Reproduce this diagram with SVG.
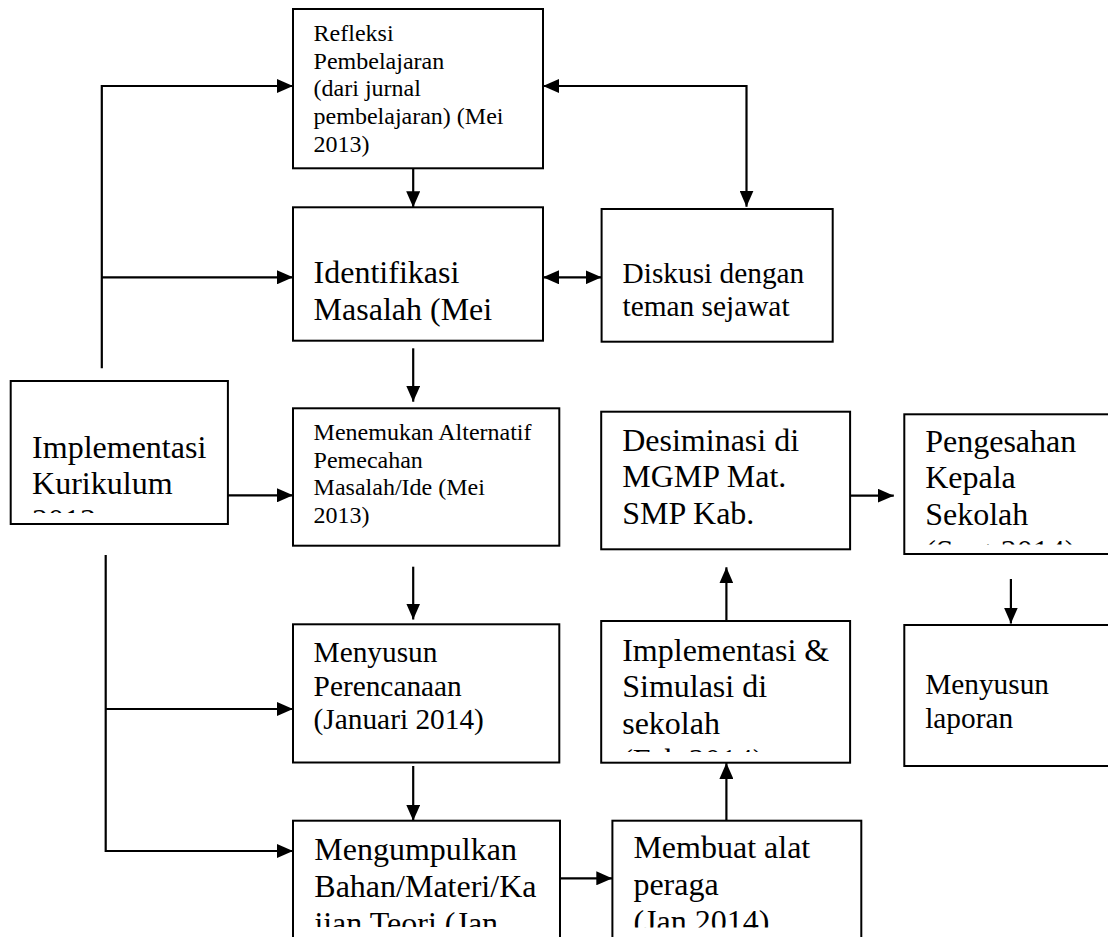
<svg xmlns="http://www.w3.org/2000/svg" width="1108" height="937" viewBox="0 0 1108 937">
<style>
.box{fill:#fff;stroke:#000;stroke-width:2}
.t{font-family:"Liberation Serif","Times New Roman",serif;fill:#000}
.s{font-size:24px}
.m{font-size:29.33px}
.l{font-size:32px}
.c{fill:none;stroke:#000;stroke-width:2.2}
</style>
<defs>
<marker id="ah" markerUnits="userSpaceOnUse" markerWidth="16" markerHeight="14" refX="16" refY="7" orient="auto-start-reverse" viewBox="0 0 16 14">
<path d="M0,0 L16,7 L0,14 z" fill="#000"/>
</marker>
<clipPath id="cpImpl"><rect x="11" y="381" width="217" height="132"/></clipPath>
<clipPath id="cpSim"><rect x="601" y="621" width="249" height="131"/></clipPath>
<clipPath id="cpPeng"><rect x="904" y="414" width="204" height="130.5"/></clipPath>
<clipPath id="cpKum"><rect x="293" y="821" width="267" height="106"/></clipPath>
<clipPath id="cpAlat"><rect x="612" y="821" width="249" height="106.5"/></clipPath>
</defs>
<rect width="1108" height="937" fill="#fff"/>

<g id="connectors">
<path class="c" d="M101.8,368.3 V86 H293" marker-end="url(#ah)"/>
<path class="c" d="M101.8,277.3 H293" marker-end="url(#ah)"/>
<path class="c" d="M105.7,555 V851 H293" marker-end="url(#ah)"/>
<path class="c" d="M105.7,709 H293" marker-end="url(#ah)"/>
<path class="c" d="M228,495.3 H293" marker-end="url(#ah)"/>
<path class="c" d="M413.2,168.3 V207.3" marker-end="url(#ah)"/>
<path class="c" d="M413.2,348.3 V401.7" marker-end="url(#ah)"/>
<path class="c" d="M413.2,566.7 V619.5" marker-end="url(#ah)"/>
<path class="c" d="M413.2,766 V820.7" marker-end="url(#ah)"/>
<path class="c" d="M746.5,206.7 V86 H543" marker-start="url(#ah)" marker-end="url(#ah)"/>
<path class="c" d="M543,277.3 H601.6" marker-start="url(#ah)" marker-end="url(#ah)"/>
<path class="c" d="M560,878.3 H612.3" marker-end="url(#ah)"/>
<path class="c" d="M726.4,820.7 V763" marker-end="url(#ah)"/>
<path class="c" d="M726.4,621 V567.3" marker-end="url(#ah)"/>
<path class="c" d="M850,495.7 H893.8" marker-end="url(#ah)"/>
<path class="c" d="M1010.9,579 V623.5" marker-end="url(#ah)"/>
</g>

<g id="refleksi">
<rect class="box" x="293" y="9" width="250" height="159.3"/>
<text class="t s" x="313.6" y="40.7">Refleksi</text>
<text class="t s" x="313.6" y="68.5">Pembelajaran</text>
<text class="t s" x="313.6" y="96.3">(dari jurnal</text>
<text class="t s" x="313.6" y="124.1">pembelajaran) (Mei</text>
<text class="t s" x="313.6" y="151.9">2013)</text>
</g>

<g id="identifikasi">
<rect class="box" x="293" y="207.3" width="250" height="133.4"/>
<text class="t l" x="313.6" y="283.3">Identifikasi</text>
<text class="t l" x="313.6" y="320">Masalah (Mei</text>
</g>

<g id="diskusi">
<rect class="box" x="601.6" y="209" width="231.1" height="132.7"/>
<text class="t m" x="622.6" y="282.7">Diskusi dengan</text>
<text class="t m" x="622.6" y="316">teman sejawat</text>
</g>

<g id="implementasi-kurikulum">
<rect class="box" x="10.7" y="381" width="217.2" height="143"/>
<g clip-path="url(#cpImpl)">
<text class="t l" x="32.1" y="457.7">Implementasi</text>
<text class="t l" x="32.1" y="494.3">Kurikulum</text>
<text class="t l" x="32.1" y="531">2013</text>
</g>
</g>

<g id="menemukan">
<rect class="box" x="293" y="408.3" width="266.3" height="137.4"/>
<text class="t s" x="313.6" y="440">Menemukan Alternatif</text>
<text class="t s" x="313.6" y="467.7">Pemecahan</text>
<text class="t s" x="313.6" y="495.4">Masalah/Ide (Mei</text>
<text class="t s" x="313.6" y="523.1">2013)</text>
</g>

<g id="menyusun-perencanaan">
<rect class="box" x="293" y="624.3" width="266.3" height="138.2"/>
<text class="t m" x="313.6" y="661.8">Menyusun</text>
<text class="t m" x="313.6" y="695.5">Perencanaan</text>
<text class="t m" x="313.6" y="729.2">(Januari 2014)</text>
</g>

<g id="mengumpulkan">
<rect class="box" x="293" y="820.7" width="267" height="130"/>
<g clip-path="url(#cpKum)">
<text class="t l" x="314.3" y="860">Mengumpulkan</text>
<text class="t l" x="314.3" y="896.8">Bahan/Materi/Ka</text>
<text class="t l" x="314.3" y="933.6">jian Teori (Jan</text>
</g>
</g>

<g id="membuat-alat">
<rect class="box" x="612.4" y="820.7" width="248.9" height="130"/>
<g clip-path="url(#cpAlat)">
<text class="t l" x="633.4" y="858.3">Membuat alat</text>
<text class="t l" x="633.4" y="895">peraga</text>
<text class="t l" x="633.4" y="931.7">(Jan 2014)</text>
</g>
</g>

<g id="implementasi-simulasi">
<rect class="box" x="601.2" y="621" width="248.9" height="141.7"/>
<g clip-path="url(#cpSim)">
<text class="t l" x="622.2" y="660.7">Implementasi &amp;</text>
<text class="t l" x="622.2" y="697.4">Simulasi di</text>
<text class="t l" x="622.2" y="734.1">sekolah</text>
<text class="t l" x="622.2" y="770.8">(Feb 2014)</text>
</g>
</g>

<g id="desiminasi">
<rect class="box" x="601.2" y="411.7" width="248.9" height="137.6"/>
<text class="t l" x="622.2" y="450.7">Desiminasi di</text>
<text class="t l" x="622.2" y="487.4">MGMP Mat.</text>
<text class="t l" x="622.2" y="524.1">SMP Kab.</text>
</g>

<g id="pengesahan">
<rect class="box" x="904.3" y="414.3" width="220" height="139.7"/>
<g clip-path="url(#cpPeng)">
<text class="t l" x="925.2" y="451.5">Pengesahan</text>
<text class="t l" x="925.2" y="488.2">Kepala</text>
<text class="t l" x="925.2" y="524.9">Sekolah</text>
<text class="t l" x="925.2" y="561.6">(Sept 2014)</text>
</g>
</g>

<g id="menyusun-laporan">
<rect class="box" x="904.3" y="625" width="220" height="141"/>
<text class="t m" x="925.2" y="694.3">Menyusun</text>
<text class="t m" x="925.2" y="728.3">laporan</text>
</g>
</svg>
